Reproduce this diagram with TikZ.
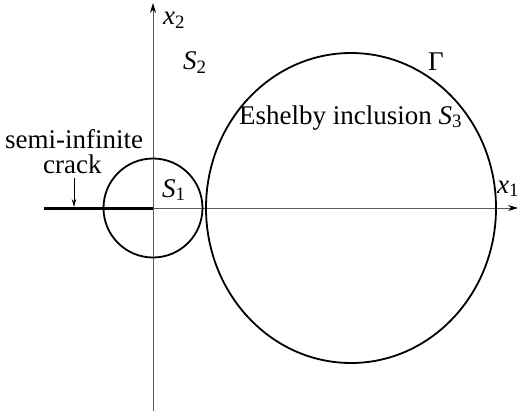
\documentclass[tikz,border=0pt]{standalone}
\usepackage{fontspec}
\setmainfont{Liberation Serif}
\newfontfamily\figserif{Liberation Serif}
\usetikzlibrary{arrows.meta}
\begin{document}
\begin{tikzpicture}[x=1pt,y=-1pt, font=\figserif\fontsize{27}{30}\selectfont,
  axis/.style={draw=black!65, line width=1pt},
  axtip/.style={-{Stealth[length=10pt,width=6pt,black]}},
  curve/.style={draw=black, line width=1.8pt},
  lbl/.style={inner sep=0pt, anchor=base west}]
\useasboundingbox (0,0) rectangle (518,417);
\coordinate (O) at (153,208);
\coordinate (xend) at (518,208);
\coordinate (xstart) at (44,208);
\coordinate (ytop) at (153,3);
\coordinate (ybot) at (153,411);
\coordinate (C3) at (351,208);
\draw[axis,axtip] (xstart) -- (xend);
\draw[axis,axtip] (ybot) -- (ytop);
\draw[line width=3pt] (xstart) -- (O);
\draw[curve] (O) circle[radius=49.5];
\draw[curve] (C3) ellipse[x radius=145, y radius=155];
\node[lbl] (x2lab) at (163,25) {\textit{x}\textsubscript{2}};
\node[lbl] (x1lab) at (497,193) {\textit{x}\textsubscript{1}};
\node[lbl] (S2lab) at (183,70) {\textit{S}\textsubscript{2}};
\node[lbl] (S1lab) at (162,197) {\textit{S}\textsubscript{1}};
\node[lbl] (Glab) at (428,71) {Γ};
\node[lbl] (S3lab) at (239,124) {Eshelby inclusion \textit{S}\textsubscript{3}};
\node[lbl] (semilab) at (5,148) {semi-infinite};
\node[lbl] (cracklab) at (43,173) {crack};
\coordinate (arrs) at (74,178);
\coordinate (arre) at (74,207);
\draw[line width=0.8pt, -{Stealth[length=8pt,width=4.5pt]}] (arrs) -- (arre);
\end{tikzpicture}
\end{document}
